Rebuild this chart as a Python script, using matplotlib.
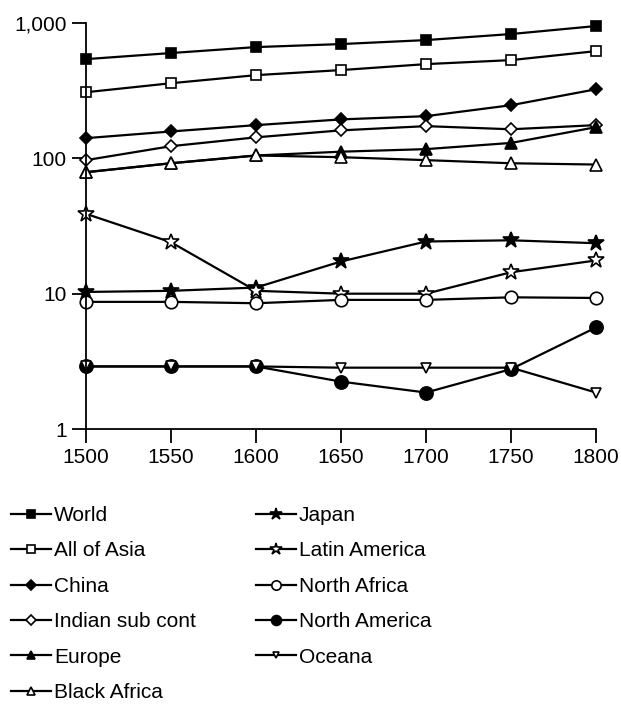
import matplotlib
import matplotlib.pyplot as plt
from matplotlib.ticker import FixedLocator, NullLocator

matplotlib.use("Agg")

plt.rcParams["font.family"] = ["Liberation Sans", "DejaVu Sans"]

years = [1500, 1550, 1600, 1650, 1700, 1750, 1800]

world = [541, 600, 664, 699, 748, 829, 950]
all_asia = [308, 359, 412, 449, 497, 532, 620]
china = [141, 158, 176, 194, 205, 247, 324]
indian = [97, 123, 143, 161, 173, 164, 176]
europe = [79, 92, 105, 112, 117, 130, 170]
black_africa = [79, 92, 105, 102, 97, 92, 90]
japan = [10.3, 10.5, 11.1, 17.3, 24.3, 24.8, 23.6]
latin_america = [38.9, 24, 10.5, 10.0, 10.0, 14.4, 17.6]
north_africa = [8.7, 8.7, 8.5, 9.0, 9.0, 9.4, 9.3]
north_america = [2.9, 2.9, 2.9, 2.24, 1.86, 2.77, 5.63]
oceana = [2.9, 2.9, 2.9, 2.84, 2.84, 2.84, 1.86]

y_ticks = [1, 10, 100, 1000]
y_tick_labels = ["1", "10", "100", "1,000"]

# (label, values, marker, filled, marker size)
series = [
    ("World", world, "s", True, 7),
    ("All of Asia", all_asia, "s", False, 7),
    ("China", china, "D", True, 6.5),
    ("Indian sub cont", indian, "D", False, 6.5),
    ("Europe", europe, "^", True, 8),
    ("Black Africa", black_africa, "^", False, 8),
    ("Japan", japan, "*", True, 12),
    ("Latin America", latin_america, "*", False, 12),
    ("North Africa", north_africa, "o", False, 9),
    ("North America", north_america, "o", True, 9.5),
    ("Oceana", oceana, "v", False, 6.5),
]

fig = plt.figure(figsize=(6.21, 7.04), dpi=100)
ax = fig.add_axes([0.1385, 0.3906, 0.8213, 0.5767])

for label, vals, marker, filled, ms in series:
    ax.plot(years, vals, color="black", linewidth=1.6, marker=marker, markersize=ms,
            markerfacecolor="black" if filled else "white",
            markeredgecolor="black", markeredgewidth=1.2, label=label, clip_on=False)

ax.set_yscale("log")
ax.set_ylim(1, 1000)
ax.set_xlim(1500, 1800)
ax.yaxis.set_major_locator(FixedLocator(y_ticks))
ax.yaxis.set_minor_locator(NullLocator())
ax.set_yticklabels(y_tick_labels)
ax.set_xticks(years)

for side in ["top", "right"]:
    ax.spines[side].set_visible(False)
for side in ["left", "bottom"]:
    ax.spines[side].set_linewidth(1.3)
ax.tick_params(axis="both", direction="out", length=10, width=1.3, labelsize=15, pad=4)

# two-column legend below the axes
fig.legend(loc="upper left", bbox_to_anchor=(-0.012, 0.308), ncol=2, frameon=False,
           fontsize=15, handlelength=1.9, handletextpad=0.15, labelspacing=0.79,
           columnspacing=2.9, markerscale=0.75)

fig.savefig("out.png", dpi=100)
